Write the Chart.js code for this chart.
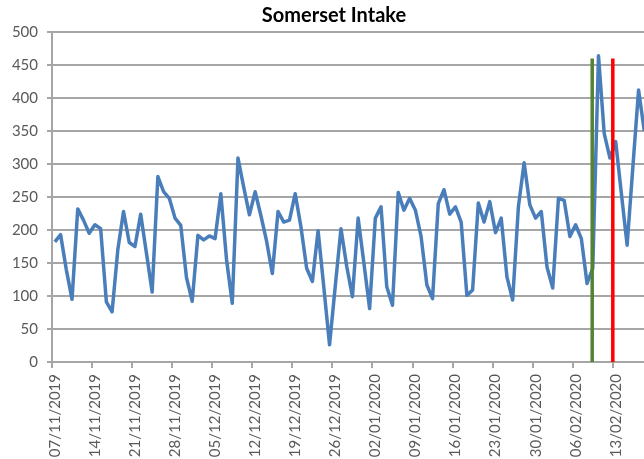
<!DOCTYPE html>
<html>
<head>
<meta charset="utf-8">
<title>Somerset Intake</title>
<script src="https://cdn.jsdelivr.net/npm/chart.js@4/dist/chart.umd.min.js"></script>
<style>
  html, body { margin: 0; padding: 0; background: #fff; overflow: hidden; }
</style>
</head>
<body>
<canvas id="intakeChart" width="644" height="459"></canvas>
<script>
  // daily dates from 07/11/2019 (the sheet is cut off on the right)
  const dayCount = 104;
  const days = [];
  for (let i = 0; i < dayCount; i++) {
    const d = new Date(2019, 10, 7 + i);
    days.push(String(d.getDate()).padStart(2, '0') + '/' + String(d.getMonth() + 1).padStart(2, '0') + '/' + d.getFullYear());
  }

  // daily intake
  const intake = [
    182, 193, 140, 95, 232, 215, 195, 208, 202, 91,
    76, 170, 228, 181, 175, 224, 165, 106, 281, 258,
    248, 218, 207, 128, 92, 192, 185, 191, 187, 255,
    155, 89, 309, 265, 223, 258, 222, 183, 134, 228,
    212, 215, 255, 205, 142, 122, 199, 113, 26, 115,
    202, 145, 99, 218, 150, 81, 218, 235, 114, 86,
    257, 230, 248, 230, 190, 117, 96, 240, 261, 224,
    235, 212, 101, 109, 241, 212, 243, 196, 218, 129,
    94, 235, 302, 238, 218, 228, 144, 112, 248, 245,
    190, 208, 187, 119, 142, 464, 346, 309, 334, 255,
    177, 295, 412, 350
  ];

  // weekly tick days (0 = 07/11/2019) and y ticks
  const xTickDays = [0, 7, 14, 21, 28, 35, 42, 49, 56, 63, 70, 77, 84, 91, 98];
  const yTicks = [0, 50, 100, 150, 200, 250, 300, 350, 400, 450, 500];

  // vertical markers, in days after 07/11/2019, and their height
  const greenDay = 94.4;
  const redDay = 98.0;
  const markerTop = 460;

  // last visible day position where the sheet is cropped
  const visibleEnd = 103.45;

  const gridGrey = '#a6a6a6';
  const textGrey = '#595959';

  // Excel centres the title on the full (uncropped) chart, so nudge it right
  const titleShift = {
    id: 'titleShift',
    afterLayout(chart) {
      if (chart.titleBlock) chart.titleBlock.left += 24;
    }
  };

  const chart = new Chart(document.getElementById('intakeChart'), {
    type: 'line',
    data: {
      datasets: [
        {
          label: 'Green marker',
          data: [{ x: greenDay, y: 0 }, { x: greenDay, y: markerTop }],
          borderColor: '#548235',
          borderWidth: 3.5,
          pointRadius: 0,
          borderCapStyle: 'butt'
        },
        {
          label: 'Red marker',
          data: [{ x: redDay, y: 0 }, { x: redDay, y: markerTop }],
          borderColor: '#ff0000',
          borderWidth: 3.5,
          pointRadius: 0,
          borderCapStyle: 'butt'
        },
        {
          label: 'Somerset Intake',
          data: intake.map((v, i) => ({ x: i + 0.5, y: v })),
          borderColor: '#4a7ebb',
          borderWidth: 3.5,
          pointRadius: 0,
          tension: 0,
          borderJoinStyle: 'round'
        }
      ]
    },
    options: {
      responsive: false,
      animation: false,
      layout: { padding: 0 },
      plugins: {
        legend: { display: false },
        tooltip: { enabled: false },
        title: {
          display: true,
          text: 'Somerset Intake',
          color: '#000',
          font: { family: 'Lato', size: 20, weight: 'bold' },
          padding: { top: 4, bottom: 4 }
        }
      },
      scales: {
        x: {
          type: 'linear',
          min: 0,
          max: visibleEnd,
          border: { color: gridGrey, width: 2 },
          grid: {
            drawOnChartArea: false,
            drawTicks: true,
            tickLength: 6,
            color: gridGrey,
            lineWidth: 2
          },
          afterBuildTicks: s => { s.ticks = xTickDays.map(v => ({ value: v })); },
          ticks: {
            autoSkip: false,
            minRotation: 90,
            maxRotation: 90,
            padding: 6,
            labelOffset: 3,
            color: textGrey,
            font: { family: 'Lato', size: 15 },
            callback: v => days[v]
          },
          afterFit: s => { s.height = 97; }
        },
        y: {
          min: 0,
          max: 500,
          border: { color: gridGrey, width: 2 },
          grid: { color: gridGrey, lineWidth: 2, tickLength: 5 },
          afterBuildTicks: s => { s.ticks = yTicks.map(v => ({ value: v })); },
          ticks: {
            padding: 9,
            color: textGrey,
            font: { family: 'Lato', size: 15 }
          },
          afterFit: s => { s.width = 52; }
        }
      }
    },
    plugins: [titleShift]
  });
</script>
</body>
</html>
